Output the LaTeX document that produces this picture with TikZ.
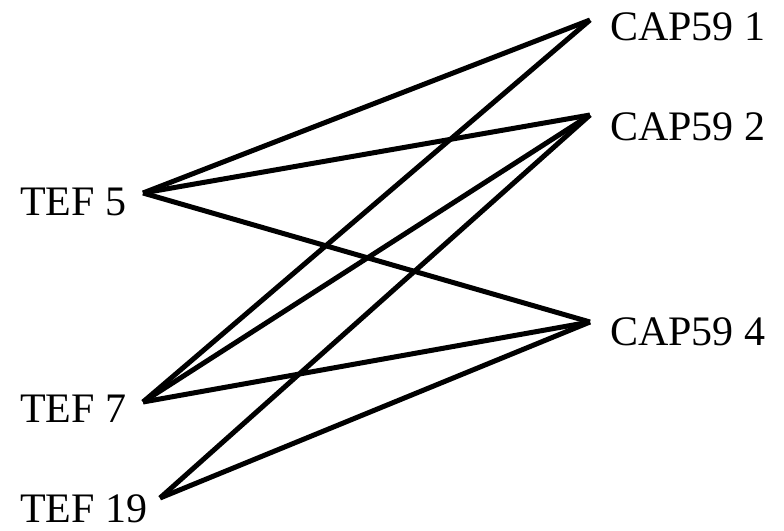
\documentclass[tikz,border=0pt]{standalone}
\usepackage{fontspec}
\setmainfont{Liberation Serif}
\usepackage{tikz}
\usetikzlibrary{positioning}

\begin{document}
\begin{tikzpicture}[x=1pt,y=-1pt,
    lbl/.style={inner sep=0pt,font=\fontsize{42}{50}\selectfont},
    link/.style={line width=5pt,black}]
  \useasboundingbox (0,0) rectangle (784,530);
  % left column
  \node[lbl,anchor=base west] (tef5lbl)  at (20,215) {TEF 5};
  \node[lbl,anchor=base west] (tef7lbl)  at (20,422) {TEF 7};
  \node[lbl,anchor=base west] (tef19lbl) at (20,522) {TEF 19};
  \coordinate (tef5)  at (143,193);
  \coordinate (tef7)  at (143,402);
  \coordinate (tef19) at (160,498);
  % right column
  \node[lbl,anchor=base west] (cap1lbl) at (610,40)  {CAP59 1};
  \node[lbl,anchor=base west] (cap2lbl) at (610,140) {CAP59 2};
  \node[lbl,anchor=base west] (cap4lbl) at (610,345) {CAP59 4};
  \coordinate (cap1) at (590,20);
  \coordinate (cap2) at (590,115);
  \coordinate (cap4) at (590,322);
  % edges
  \foreach \a/\b in {tef5/cap1,tef5/cap2,tef5/cap4,
                     tef7/cap1,tef7/cap2,tef7/cap4,
                     tef19/cap2,tef19/cap4}{
    \draw[link] (\a) -- (\b);
  }
\end{tikzpicture}
\end{document}
